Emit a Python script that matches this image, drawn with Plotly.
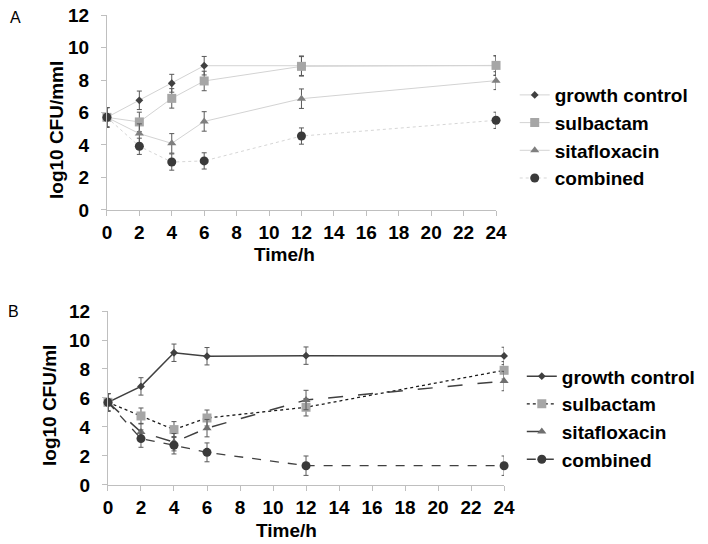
import plotly.graph_objects as go

time_h = [0, 2, 4, 6, 12, 24]
series_names = ["growth control", "sulbactam", "sitafloxacin", "combined"]

# Panel A values (log10 CFU/ml)
a_growth = [5.7, 6.75, 7.8, 8.88, 8.88, 8.88]
a_sulb = [5.7, 5.42, 6.87, 7.94, 8.84, 8.9]
a_sita = [5.7, 4.7, 4.1, 5.45, 6.85, 7.96]
a_comb = [5.7, 3.92, 2.95, 3.02, 4.55, 5.52]
a_growth_err = [0.6, 0.57, 0.55, 0.57, 0.6, 0.6]
a_sulb_err = [0.6, 0.6, 0.6, 0.6, 0.6, 0.6]
a_sita_err = [0.6, 0.6, 0.6, 0.6, 0.6, 0.55]
a_comb_err = [0.6, 0.5, 0.5, 0.5, 0.5, 0.5]

# Panel B values (log10 CFU/ml)
b_growth = [5.7, 6.8, 9.12, 8.88, 8.92, 8.9]
b_sulb = [5.7, 4.76, 3.82, 4.62, 5.36, 7.91]
b_sita = [5.7, 3.65, 2.95, 3.92, 5.86, 7.17]
b_comb = [5.7, 3.2, 2.74, 2.25, 1.33, 1.33]
b_growth_err = [0.6, 0.6, 0.6, 0.6, 0.6, 0.6]
b_sulb_err = [0.6, 0.55, 0.55, 0.55, 0.6, 0.6]
b_sita_err = [0.6, 0.6, 0.6, 0.6, 0.67, 0.67]
b_comb_err = [0.6, 0.6, 0.6, 0.65, 0.67, 0.67]

x_ticks = list(range(0, 25, 2))
y_ticks = list(range(0, 13, 2))

x_title = "Time/h"
a_y_title = "log10 CFU/mml"
b_y_title = "log10 CFU/ml"

FONT = "Liberation Sans, Arial, sans-serif"
ERR_COLOR = "#595959"
W, H = 708, 544

fig = go.Figure()

a_specs = [
    (a_growth, a_growth_err, dict(symbol="diamond", size=6, color="#404040"), dict(color="#d3d3d3", width=1)),
    (a_sulb, a_sulb_err, dict(symbol="square", size=9, color="#a6a6a6"), dict(color="#d3d3d3", width=1)),
    (a_sita, a_sita_err, dict(symbol="triangle-up", size=8, color="#7f7f7f"), dict(color="#d3d3d3", width=1)),
    (a_comb, a_comb_err, dict(symbol="circle", size=9, color="#3a3a3a"), dict(color="#d6d6d6", width=1, dash="dot")),
]
for name, (yv, ev, mk, ln) in zip(series_names, a_specs):
    fig.add_trace(go.Scatter(
        x=time_h, y=yv, name=name, mode="lines+markers",
        marker=mk, line=ln, cliponaxis=False,
        error_y=dict(type="data", array=ev, color=ERR_COLOR, thickness=1, width=2.5),
        xaxis="x", yaxis="y", legend="legend",
    ))

b_specs = [
    (b_growth, b_growth_err, dict(symbol="diamond", size=6, color="#404040"), dict(color="#404040", width=1.5)),
    (b_sulb, b_sulb_err, dict(symbol="square", size=9, color="#a6a6a6"), dict(color="#1a1a1a", width=1.3, dash="dot")),
    (b_sita, b_sita_err, dict(symbol="triangle-up", size=8, color="#6f6f6f"), dict(color="#404040", width=1.5, dash="longdash")),
    (b_comb, b_comb_err, dict(symbol="circle", size=9, color="#3a3a3a"), dict(color="#404040", width=1.3, dash="dash")),
]
for name, (yv, ev, mk, ln) in zip(series_names, b_specs):
    fig.add_trace(go.Scatter(
        x=time_h, y=yv, name=name, mode="lines+markers",
        marker=mk, line=ln, cliponaxis=False,
        error_y=dict(type="data", array=ev, color=ERR_COLOR, thickness=1, width=2.5),
        xaxis="x2", yaxis="y2", legend="legend2",
    ))

tickfont = dict(family=FONT, size=19, color="#000000", weight="bold")

def xax(domain, anchor):
    return dict(domain=domain, anchor=anchor, range=[0, 24], tickvals=x_ticks,
                tickfont=tickfont, automargin=False,
                showgrid=False, zeroline=False, showline=True, linecolor="#bfbfbf", linewidth=1,
                ticks="outside", ticklen=5, tickcolor="#bfbfbf", ticklabelstandoff=0)

def yax(domain, anchor):
    return dict(domain=domain, anchor=anchor, range=[0, 12], tickvals=y_ticks,
                tickfont=tickfont, automargin=False,
                showgrid=False, zeroline=False, showline=True, linecolor="#bfbfbf", linewidth=1,
                ticks="outside", ticklen=5, tickcolor="#bfbfbf", ticklabelstandoff=8)

legfont = dict(family=FONT, size=19, color="#000000", weight="bold")

def ann(text, px, py, size=19, angle=0, bold=True):
    f = dict(family=FONT, size=size, color="#000000")
    if bold:
        f["weight"] = "bold"
    return dict(text=text, x=px / W, y=1 - py / H, xref="paper", yref="paper",
                xanchor="center", yanchor="middle", showarrow=False,
                textangle=angle, font=f)

fig.update_layout(
    width=W, height=H,
    margin=dict(l=0, r=0, t=0, b=0),
    paper_bgcolor="white", plot_bgcolor="white",
    xaxis=xax([0.151, 0.7006], "y"),
    yaxis=yax([0.614, 0.9724], "x"),
    xaxis2=xax([0.1525, 0.712], "y2"),
    yaxis2=yax([0.1085, 0.4283], "x2"),
    legend=dict(x=0.727, y=0.749, xanchor="left", yanchor="middle",
                font=legfont, bgcolor="rgba(0,0,0,0)", itemwidth=30, tracegroupgap=0),
    legend2=dict(x=0.737, y=0.232, xanchor="left", yanchor="middle",
                 font=legfont, bgcolor="rgba(0,0,0,0)", itemwidth=30, tracegroupgap=0),
    annotations=[
        ann(x_title, 284, 254),
        ann(x_title, 286, 530),
        ann(a_y_title, 56, 130, angle=-90),
        ann(b_y_title, 49, 406, angle=-90),
        ann("A", 15.5, 17.5, size=16, bold=False),
        ann("B", 13.5, 311, size=16, bold=False),
    ],
)

fig.write_html("out.html", config={"displayModeBar": False},
               post_script="document.body.style.margin='0';document.body.style.padding='0';")
